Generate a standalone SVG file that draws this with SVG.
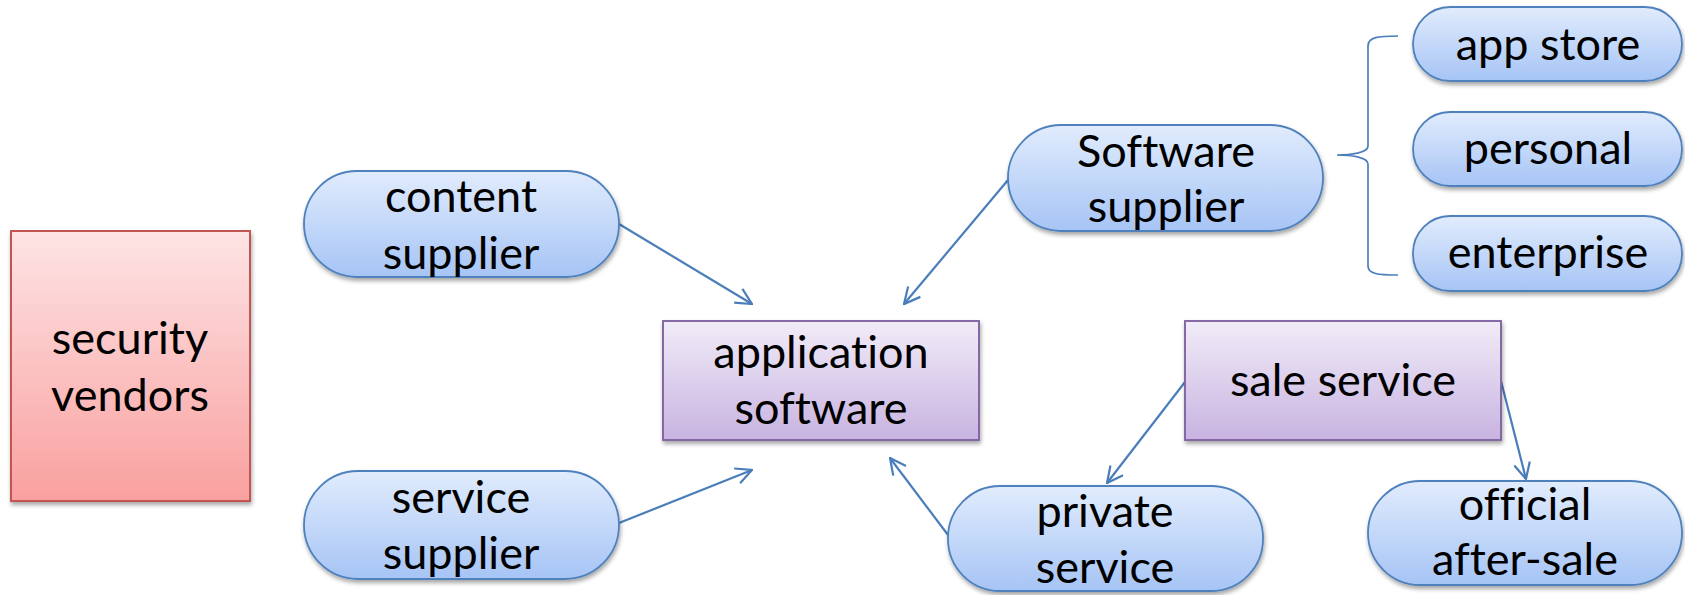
<svg xmlns="http://www.w3.org/2000/svg" width="1685" height="595" viewBox="0 0 1685 595">
  <style>
    .lbl { font-family: Lato, "Open Sans", sans-serif; font-size: 45px; fill: #000; text-anchor: middle; font-variant-ligatures: none; font-feature-settings: "liga" 0, "dlig" 0; }
    .pill { fill: url(#gBlue); stroke: #4f81bd; stroke-width: 1.8; filter: url(#shadow); }
    .box { fill: url(#gPurple); stroke: #8064a2; stroke-width: 1.9; filter: url(#shadow); }
    .red { fill: url(#gRed); stroke: #c0504d; stroke-width: 1.9; filter: url(#shadow); }
    .link { fill: none; stroke: #4a7ebb; stroke-width: 2.2; marker-end: url(#arr); }
    .brace { fill: none; stroke: #4a7ebb; stroke-width: 1.7; }
  </style>
  <defs>
    <linearGradient id="gBlue" x1="0" y1="0" x2="0" y2="1">
      <stop offset="0" stop-color="#e1ecfd"/>
      <stop offset="1" stop-color="#a6c4f5"/>
    </linearGradient>
    <linearGradient id="gPurple" x1="0" y1="0" x2="0" y2="1">
      <stop offset="0" stop-color="#f1ecf8"/>
      <stop offset="1" stop-color="#c8b3e1"/>
    </linearGradient>
    <linearGradient id="gRed" x1="0" y1="0" x2="0" y2="1">
      <stop offset="0" stop-color="#fee4e5"/>
      <stop offset="1" stop-color="#f9a09f"/>
    </linearGradient>
    <filter id="shadow" x="-10%" y="-10%" width="120%" height="130%">
      <feDropShadow dx="1" dy="3" stdDeviation="2" flood-color="#000" flood-opacity="0.35"/>
    </filter>
    <marker id="arr" viewBox="0 0 18 18" refX="17" refY="9" markerWidth="18" markerHeight="18" markerUnits="userSpaceOnUse" orient="auto">
      <path d="M1,1 L17,9 L1,17" fill="none" stroke="#4a7ebb" stroke-width="2.2"/>
    </marker>
  </defs>

  <!-- connectors -->
  <g id="connectors">
    <line class="link" x1="619" y1="224" x2="752" y2="304"/>
    <line class="link" x1="619" y1="523" x2="752" y2="470"/>
    <line class="link" x1="1008" y1="180" x2="904" y2="304"/>
    <line class="link" x1="948" y1="535" x2="890" y2="458"/>
    <line class="link" x1="1185" y1="382" x2="1107" y2="483"/>
    <line class="link" x1="1501" y1="381" x2="1526" y2="479"/>
    <path class="brace" d="M1398,36 C1378,36 1368,37 1368,46 L1368,146 C1368,153 1350,155 1337,155 C1350,155 1368,157 1368,164 L1368,266 C1368,274 1378,275 1398,275"/>
  </g>

  <g id="security-vendors">
    <rect class="red" x="11" y="231" width="239" height="270"/>
    <text class="lbl" x="130" y="354">security</text>
    <text class="lbl" x="130" y="411">vendors</text>
  </g>

  <g id="content-supplier">
    <rect class="pill" x="304" y="171" width="315" height="106" rx="53"/>
    <text class="lbl" x="461" y="212">content</text>
    <text class="lbl" x="461" y="269">supplier</text>
  </g>

  <g id="service-supplier">
    <rect class="pill" x="304" y="471" width="315" height="108" rx="54"/>
    <text class="lbl" x="461" y="513">service</text>
    <text class="lbl" x="461" y="569">supplier</text>
  </g>

  <g id="application-software">
    <rect class="box" x="663" y="321" width="316" height="119"/>
    <text class="lbl" x="821" y="368">application</text>
    <text class="lbl" x="821" y="424">software</text>
  </g>

  <g id="software-supplier">
    <rect class="pill" x="1008" y="125" width="315" height="106" rx="53"/>
    <text class="lbl" x="1166" y="167">Software</text>
    <text class="lbl" x="1166" y="222">supplier</text>
  </g>

  <g id="app-store">
    <rect class="pill" x="1413" y="7" width="269" height="74" rx="37"/>
    <text class="lbl" x="1548" y="60">app store</text>
  </g>

  <g id="personal">
    <rect class="pill" x="1413" y="112" width="269" height="74" rx="37"/>
    <text class="lbl" x="1548" y="164">personal</text>
  </g>

  <g id="enterprise">
    <rect class="pill" x="1413" y="216" width="269" height="75" rx="37"/>
    <text class="lbl" x="1548" y="268">enterprise</text>
  </g>

  <g id="sale-service">
    <rect class="box" x="1185" y="321" width="316" height="119"/>
    <text class="lbl" x="1343" y="396">sale service</text>
  </g>

  <g id="private-service">
    <rect class="pill" x="948" y="486" width="315" height="105" rx="52"/>
    <text class="lbl" x="1105" y="527">private</text>
    <text class="lbl" x="1105" y="583">service</text>
  </g>

  <g id="official-after-sale">
    <rect class="pill" x="1368" y="481" width="314" height="104" rx="52"/>
    <text class="lbl" x="1525" y="520">official</text>
    <text class="lbl" x="1525" y="575">after-sale</text>
  </g>
</svg>
